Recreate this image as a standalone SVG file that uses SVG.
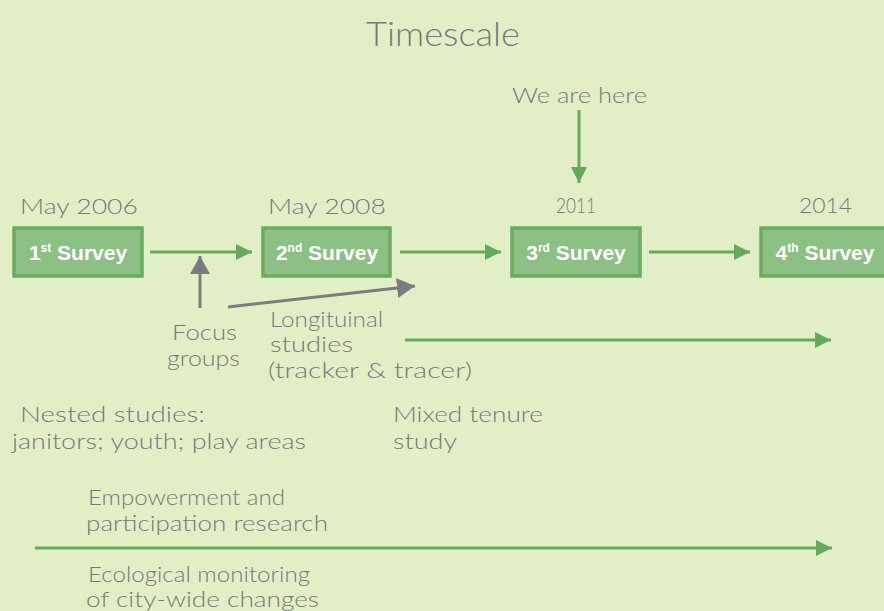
<svg xmlns="http://www.w3.org/2000/svg" width="884" height="611" viewBox="0 0 884 611">
<style>
.hw{font-family:Lato,"Open Sans","Liberation Sans",sans-serif;font-weight:300;fill:#77787b;font-size:21px}
.box{fill:#8cc084;stroke:#68ad5f;stroke-width:3.5}
.bt{font-family:"Liberation Sans",Arial,sans-serif;font-weight:bold;fill:#ffffff;font-size:21px;text-anchor:middle}
.sup{font-size:12px}
.g{stroke:#64aa5c;stroke-width:3;fill:none}
.k{stroke:#7b7c80;stroke-width:3;fill:none}
</style>
<defs>
<marker id="ag" markerUnits="userSpaceOnUse" markerWidth="18" markerHeight="18" refX="16" refY="9" orient="auto" viewBox="0 0 18 18"><path d="M0,1 L16,9 L0,17 Z" fill="#64aa5c"/></marker>
<marker id="ak" markerUnits="userSpaceOnUse" markerWidth="20" markerHeight="20" refX="18" refY="10" orient="auto" viewBox="0 0 20 20"><path d="M0,0 L18,10 L0,20 Z" fill="#7b7c80"/></marker>
</defs>
<rect width="884" height="611" fill="#e2efc6"/>
<g id="title"><text class="hw" x="366" y="46" style="font-size:34px" textLength="154" lengthAdjust="spacingAndGlyphs">Timescale</text></g>
<g id="here"><text class="hw" x="512" y="103" textLength="135" lengthAdjust="spacingAndGlyphs">We are here</text></g>
<g id="dates">
<text class="hw" x="20" y="214" textLength="118" lengthAdjust="spacingAndGlyphs">May 2006</text>
<text class="hw" x="268" y="214" textLength="118" lengthAdjust="spacingAndGlyphs">May 2008</text>
<text class="hw" x="556" y="213" textLength="40" lengthAdjust="spacingAndGlyphs">2011</text>
<text class="hw" x="799" y="213" textLength="53" lengthAdjust="spacingAndGlyphs">2014</text>
</g>
<g id="survey1"><rect class="box" x="14" y="228" width="128" height="48"/><text class="bt" x="78" y="260">1<tspan class="sup" dy="-8">st</tspan><tspan dy="8"> Survey</tspan></text></g>
<g id="survey2"><rect class="box" x="263" y="228" width="127" height="48"/><text class="bt" x="327" y="260">2<tspan class="sup" dy="-8">nd</tspan><tspan dy="8"> Survey</tspan></text></g>
<g id="survey3"><rect class="box" x="512" y="228" width="128" height="48"/><text class="bt" x="576" y="260">3<tspan class="sup" dy="-8">rd</tspan><tspan dy="8"> Survey</tspan></text></g>
<g id="survey4"><rect class="box" x="761" y="228" width="130" height="48"/><text class="bt" x="825" y="260">4<tspan class="sup" dy="-8">th</tspan><tspan dy="8"> Survey</tspan></text></g>
<g id="connectors">
<line class="g" x1="579" y1="110" x2="579" y2="183" marker-end="url(#ag)"/>
<line class="g" x1="150" y1="252" x2="252" y2="252" marker-end="url(#ag)"/>
<line class="g" x1="400" y1="252" x2="501" y2="252" marker-end="url(#ag)"/>
<line class="g" x1="649" y1="252" x2="750" y2="252" marker-end="url(#ag)"/>
<line class="k" x1="200" y1="308" x2="200" y2="256" marker-end="url(#ak)"/>
<line class="k" x1="228" y1="307" x2="415" y2="286" marker-end="url(#ak)"/>
<line class="g" x1="405" y1="340" x2="831" y2="340" marker-end="url(#ag)"/>
<line class="g" x1="35" y1="548" x2="832" y2="548" marker-end="url(#ag)"/>
</g>
<g id="focus">
<text class="hw" x="172" y="340" textLength="65" lengthAdjust="spacingAndGlyphs">Focus</text>
<text class="hw" x="167" y="366" textLength="73" lengthAdjust="spacingAndGlyphs">groups</text>
</g>
<g id="longitudinal">
<text class="hw" x="270" y="327" textLength="113" lengthAdjust="spacingAndGlyphs">Longituinal</text>
<text class="hw" x="270" y="352" textLength="83" lengthAdjust="spacingAndGlyphs">studies</text>
<text class="hw" x="268" y="378" textLength="204" lengthAdjust="spacingAndGlyphs">(tracker &amp; tracer)</text>
</g>
<g id="nested">
<text class="hw" x="20" y="422" textLength="185" lengthAdjust="spacingAndGlyphs">Nested studies:</text>
<text class="hw" x="12" y="449" textLength="294" lengthAdjust="spacingAndGlyphs">janitors; youth; play areas</text>
</g>
<g id="mixed">
<text class="hw" x="393" y="422" textLength="150" lengthAdjust="spacingAndGlyphs">Mixed tenure</text>
<text class="hw" x="393" y="449" textLength="64" lengthAdjust="spacingAndGlyphs">study</text>
</g>
<g id="empowerment">
<text class="hw" x="88" y="505" textLength="197" lengthAdjust="spacingAndGlyphs">Empowerment and</text>
<text class="hw" x="86" y="531" textLength="242" lengthAdjust="spacingAndGlyphs">participation research</text>
</g>
<g id="ecological">
<text class="hw" x="88" y="582" textLength="222" lengthAdjust="spacingAndGlyphs">Ecological monitoring</text>
<text class="hw" x="86" y="607" textLength="233" lengthAdjust="spacingAndGlyphs">of city-wide changes</text>
</g>
</svg>
